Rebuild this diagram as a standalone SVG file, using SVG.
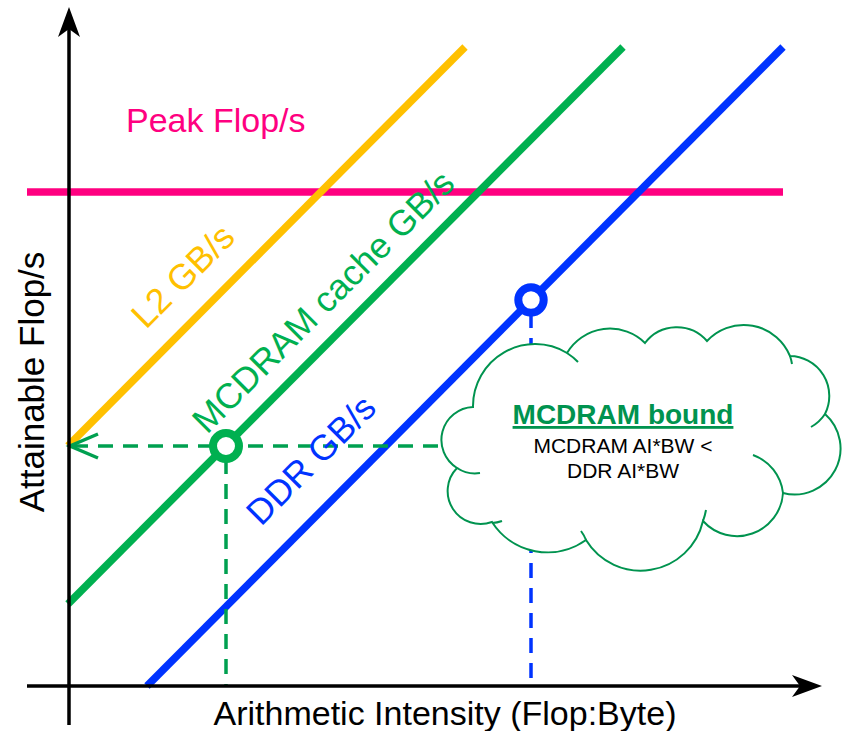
<svg xmlns="http://www.w3.org/2000/svg" width="842" height="731" viewBox="0 0 842 731">
<style>
  text { font-family: "Liberation Sans", Arial, Helvetica, sans-serif; }
  .axis { stroke: #000; stroke-width: 3.5; fill: none; }
  .roof { fill: none; stroke-width: 7.5; stroke-linecap: butt; }
  .dash { fill: none; stroke-width: 3.5; stroke-dasharray: 15 10; }
  .big { font-size: 34px; }
  .diag { font-size: 35.5px; }
  .pt { fill: #fff; stroke-width: 8; }
  .cloud { fill: #fff; stroke: #00934F; stroke-width: 2; }
  .tail { fill: none; stroke: #00934F; stroke-width: 2; }
</style>
<defs>
  <marker id="axhead" markerUnits="userSpaceOnUse" orient="auto" refX="0" refY="0" markerWidth="40" markerHeight="30" overflow="visible">
    <path d="M22,0 L-8,-11 L0,0 L-8,11 Z" fill="#000"/>
  </marker>
  <marker id="openhead" markerUnits="userSpaceOnUse" orient="auto" refX="0" refY="0" markerWidth="40" markerHeight="30" overflow="visible">
    <path d="M-28,-12 L0,0 L-28,12" fill="none" stroke="#00A050" stroke-width="3.5"/>
  </marker>
</defs>
<rect width="842" height="731" fill="#fff"/>

<g id="peak-line">
  <line x1="27" y1="192" x2="783" y2="192" class="roof" stroke="#FF0080"/>
</g>
<g id="l2-line">
  <line x1="68" y1="446" x2="465" y2="47" class="roof" stroke="#FFC000"/>
</g>
<g id="mcdram-line">
  <line x1="68" y1="604" x2="623" y2="47" class="roof" stroke="#00B050"/>
</g>
<g id="ddr-line">
  <line x1="147" y1="686" x2="783" y2="47" class="roof" stroke="#0033FF"/>
</g>

<g id="connectors">
  <line x1="438" y1="446" x2="70" y2="446" class="dash" stroke="#00A050" marker-end="url(#openhead)"/>
  <line x1="226" y1="459" x2="226" y2="686" class="dash" stroke="#00A050"/>
  <line x1="531" y1="313" x2="531" y2="686" class="dash" stroke="#0033FF" stroke-width="3" stroke-dasharray="14 9"/>
</g>

<g id="mcdram-point">
  <circle cx="226" cy="446" r="13" class="pt" stroke="#00B050"/>
</g>
<g id="ddr-point">
  <circle cx="531" cy="300" r="12.7" class="pt" stroke="#0033FF"/>
</g>

<g id="cloud">
  <path class="cloud" d="M457,468 A33,33 0 0 1 473,407 A62,62 0 0 1 567,353 A50,50 0 0 1 645,343 A40,40 0 0 1 707,341 A50,50 0 0 1 790,356 A40,40 0 0 1 825,414 A46,46 0 0 1 783,493 A46,46 0 0 1 703,521 A64,64 0 0 1 586,540 A66,66 0 0 1 492,522 A33,33 0 0 1 457,468 Z"/>
  <path class="tail" d="M567,353 A62,62 0 0 1 578,362"/>
  <path class="tail" d="M790,356 A50,50 0 0 1 792,364"/>
  <path class="tail" d="M825,414 A40,40 0 0 1 811,427"/>
  <path class="tail" d="M753,455 A46,46 0 0 1 783,493"/>
  <path class="tail" d="M706,510 A64,64 0 0 1 703,521"/>
  <path class="tail" d="M581,531 A40,40 0 0 1 586,540"/>
  <path class="tail" d="M502,521 A33,33 0 0 1 492,523"/>
  <path class="tail" d="M480,473 A33,33 0 0 1 457,468"/>
  <text x="623" y="424" text-anchor="middle" font-size="28" font-weight="bold" fill="#00934F" text-decoration="underline">MCDRAM bound</text>
  <text x="623" y="453" text-anchor="middle" font-size="21" fill="#000">MCDRAM AI*BW &lt;</text>
  <text x="623" y="478" text-anchor="middle" font-size="21" fill="#000">DDR AI*BW</text>
</g>

<g id="labels">
  <text x="126" y="132" class="big" fill="#FF0080">Peak Flop/s</text>
  <text transform="translate(146,330) rotate(-45)" class="diag" fill="#FFC000">L2 GB/s</text>
  <text transform="translate(207,435) rotate(-45)" class="diag" fill="#00B050">MCDRAM cache GB/s</text>
  <text transform="translate(261,527) rotate(-45)" class="diag" fill="#0033FF">DDR GB/s</text>
</g>

<g id="axes">
  <line x1="69" y1="725" x2="69" y2="29" class="axis" marker-end="url(#axhead)"/>
  <line x1="27" y1="686" x2="800" y2="686" class="axis" marker-end="url(#axhead)"/>
  <text x="445" y="725" text-anchor="middle" class="big" fill="#000">Arithmetic Intensity (Flop:Byte)</text>
  <text transform="translate(44,382) rotate(-90)" text-anchor="middle" font-size="35" fill="#000">Attainable Flop/s</text>
</g>
</svg>
